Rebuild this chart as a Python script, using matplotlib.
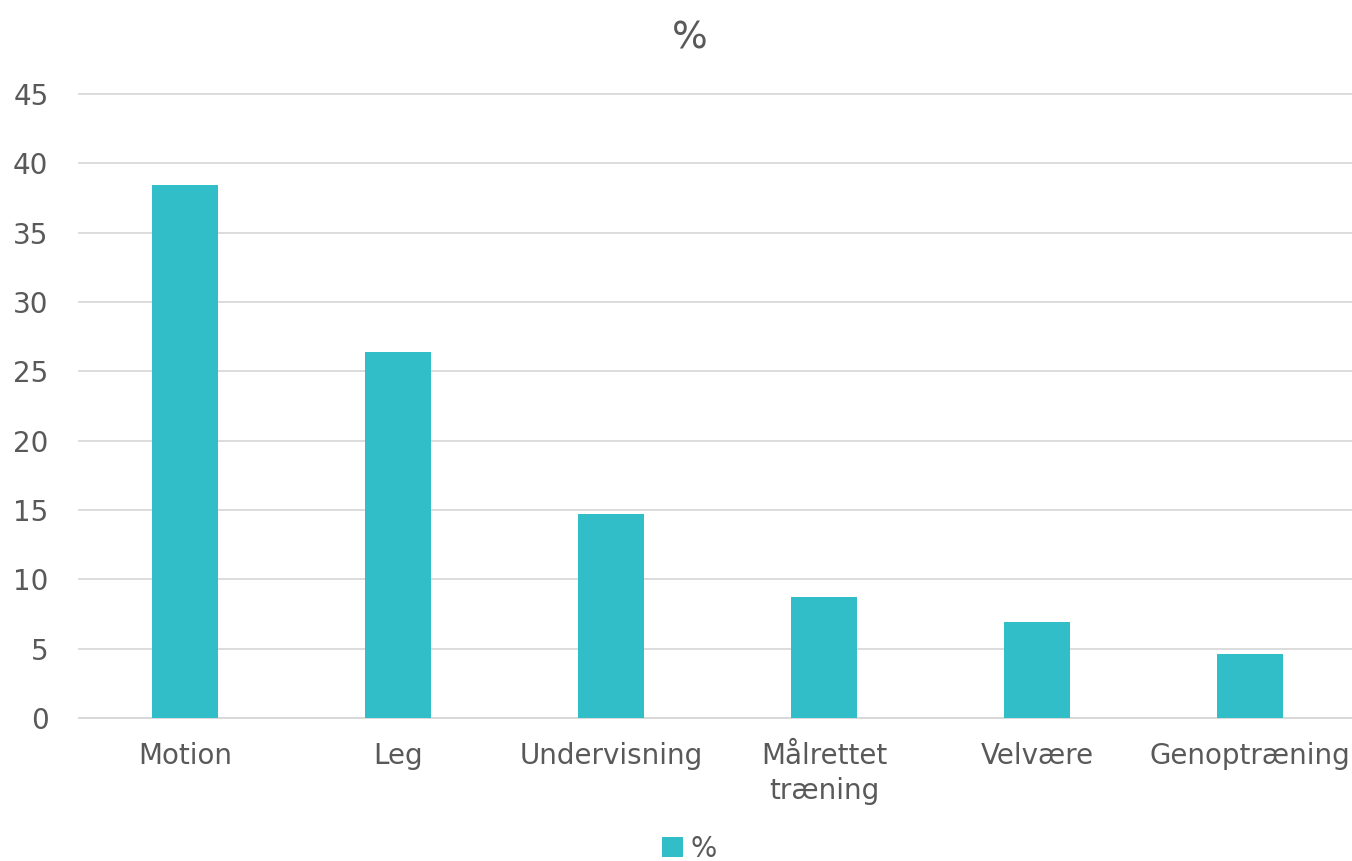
import matplotlib
matplotlib.use('Agg')
import matplotlib.pyplot as plt
import numpy as np

categories = ['Motion', 'Leg', 'Undervisning', 'Målrettet\ntræning', 'Velvære', 'Genoptræning']
values = [38.4, 26.4, 14.7, 8.7, 6.9, 4.6]
series_name = '%'
yticks = [0, 5, 10, 15, 20, 25, 30, 35, 40, 45]

color = '#32BEC9'
text_color = '#595959'
grid_color = '#d9d9d9'

plt.rcParams['font.family'] = 'DejaVu Sans'

fig = plt.figure(figsize=(13.52, 8.61), dpi=100)
ax = fig.add_axes([0.0584, 0.166, 0.945, 0.725])

x = np.arange(len(categories))
ax.bar(x, values, width=0.31, color=color, label=series_name, zorder=3)

ax.set_xlim(-0.5, len(categories) - 0.5)
ax.set_ylim(0, 45)
ax.set_yticks(yticks)
ax.set_xticks(x)
ax.set_xticklabels(categories, linespacing=1.35)

ax.grid(axis='y', color=grid_color, linewidth=1.3, zorder=0)
for gl in ax.get_ygridlines():
    gl.set_clip_on(False)
for s in ['top', 'right', 'left']:
    ax.spines[s].set_visible(False)
ax.spines['bottom'].set_color(grid_color)
ax.spines['bottom'].set_linewidth(1.3)
ax.tick_params(axis='both', length=0, labelsize=20, colors=text_color)
ax.tick_params(axis='y', pad=22)
ax.tick_params(axis='x', pad=17)

fig.text(0.51, 0.955, '%', ha='center', va='center', fontsize=27, color=text_color)

leg = fig.legend(loc='center', bbox_to_anchor=(0.51, 0.014), frameon=False,
                 fontsize=20, handlelength=0.75, handleheight=0.75, handletextpad=0.3,
                 borderpad=0.1)
for t in leg.get_texts():
    t.set_color(text_color)

fig.savefig('out.png', dpi=100)
